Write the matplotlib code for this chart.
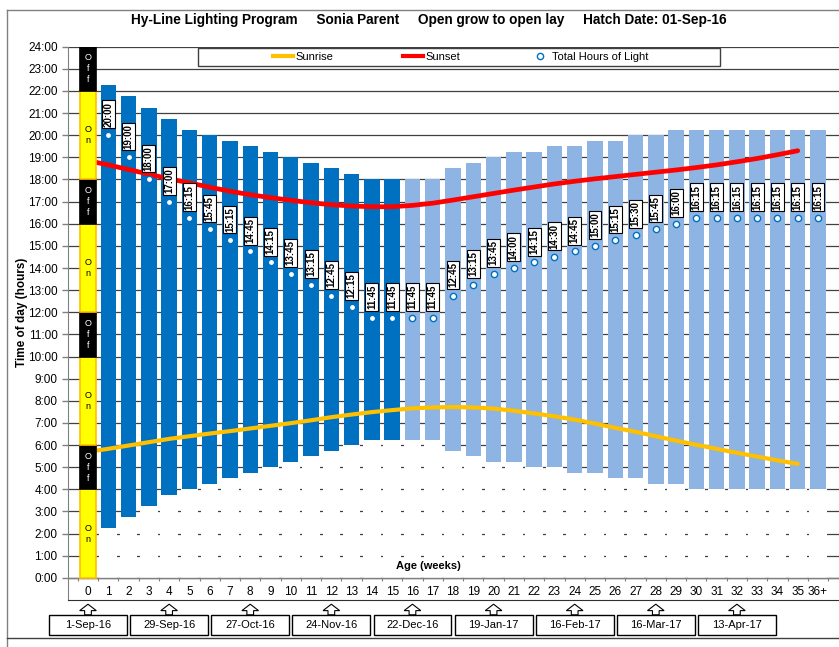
import matplotlib.pyplot as plt
import numpy as np
from matplotlib.patches import Rectangle, Polygon
from matplotlib.lines import Line2D

plt.rcParams['font.family'] = ['Liberation Sans', 'DejaVu Sans']

# x categories (age in weeks)
week_labels = [str(w) for w in range(36)] + ['36+']

# lights on / off for weeks 1 .. 36+
light_on = ['2:15', '2:45', '3:15', '3:45', '4:00', '4:15', '4:30', '4:45', '5:00', '5:15',
            '5:30', '5:45', '6:00', '6:15', '6:15', '6:15', '6:15', '5:45', '5:30', '5:15',
            '5:15', '5:00', '5:00', '4:45', '4:45', '4:30', '4:30', '4:15', '4:15', '4:00',
            '4:00', '4:00', '4:00', '4:00', '4:00', '4:00']
light_off = ['22:15', '21:45', '21:15', '20:45', '20:15', '20:00', '19:45', '19:30', '19:15', '19:00',
             '18:45', '18:30', '18:15', '18:00', '18:00', '18:00', '18:00', '18:30', '18:45', '19:00',
             '19:15', '19:15', '19:30', '19:30', '19:45', '19:45', '20:00', '20:00', '20:15', '20:15',
             '20:15', '20:15', '20:15', '20:15', '20:15', '20:15']

# natural sunrise / sunset, weeks 0 .. 35 (decimal hours)
sunrise = [5.70, 5.83, 5.98, 6.13, 6.28, 6.40, 6.52, 6.63, 6.75, 6.87,
           6.99, 7.12, 7.26, 7.38, 7.49, 7.58, 7.66, 7.70, 7.72, 7.70,
           7.65, 7.55, 7.43, 7.30, 7.15, 6.97, 6.78, 6.60, 6.40, 6.20,
           6.01, 5.83, 5.65, 5.48, 5.31, 5.15]
sunset = [18.85, 18.66, 18.45, 18.24, 18.03, 17.85, 17.65, 17.47, 17.31, 17.18,
          17.06, 16.95, 16.86, 16.80, 16.77, 16.77, 16.83, 16.93, 17.07, 17.22,
          17.37, 17.52, 17.66, 17.80, 17.92, 18.03, 18.13, 18.23, 18.33, 18.43,
          18.54, 18.66, 18.80, 18.95, 19.12, 19.30]

# week 0 on/off pattern
week0_state = ['On', 'Off', 'On', 'Off', 'On', 'Off', 'On', 'Off']
week0_start = [0, 4, 6, 10, 12, 16, 18, 22]
week0_end = [4, 6, 10, 12, 16, 18, 22, 24]

# calendar dates under the axis
date_weeks = [0, 4, 8, 12, 16, 20, 24, 28, 32]
dates = ['1-Sep-16', '29-Sep-16', '27-Oct-16', '24-Nov-16', '22-Dec-16',
         '19-Jan-17', '16-Feb-17', '16-Mar-17', '13-Apr-17']


def to_hours(s):
    h, m = s.split(':')
    return int(h) + int(m) / 60


def to_hhmm(x):
    mins = int(round(x * 60))
    return '%d:%02d' % (mins // 60, mins % 60)


on = np.array([to_hours(s) for s in light_on])
off = np.array([to_hours(s) for s in light_off])
hours = off - on
weeks = np.arange(1, 37)

dark_blue = '#0070C0'
light_blue = '#8DB4E2'
bar_colors = [dark_blue if w <= 15 else light_blue for w in weeks]

fig = plt.figure(figsize=(8.39, 6.47), dpi=100)
ax = fig.add_axes([68 / 839, 47 / 647, 792 / 839, 553.3 / 647])
ax.set_xlim(-0.986, 38.07)
ax.set_ylim(-1, 24)

# gridlines
for h in range(0, 25):
    ax.axhline(h, color='#404040', lw=0.9, zorder=0.5)

# white base bars hide the grid below the lit period
ax.bar(weeks, on, width=0.87, color='white', zorder=1)
# lit period bars
ax.bar(weeks, hours, bottom=on, width=0.76, color=bar_colors, zorder=2)

# 0:00 baseline with small category ticks
ax.axhline(0, color='#808080', lw=1, zorder=2.5)
ax.vlines(np.arange(-0.5, 37), -0.12, 0, color='#808080', lw=0.8, zorder=2.6)

# sunrise / sunset curves
ax.plot(range(36), sunrise, color='#FFC000', lw=3, zorder=3, solid_capstyle='round')
ax.plot(range(36), sunset, color='#FF0000', lw=3.4, zorder=3, solid_capstyle='round')

# week 0 column
for state, b, e in zip(week0_state, week0_start, week0_end):
    if state == 'On':
        fc, ec, tc, txt = '#FFFF00', '#FFC000', 'black', 'O\nn'
    else:
        fc, ec, tc, txt = 'black', 'black', 'white', 'O\nf\nf'
    ax.bar(0, e - b, bottom=b, width=0.8, color=fc, edgecolor=ec, lw=1.2, zorder=4)
    ax.text(0, (b + e) / 2, txt, ha='center', va='center', fontsize=6.5, color=tc,
            linespacing=1.3, zorder=4.5)

# total hours markers and labels
ax.plot(weeks, hours, 'o', ms=4.5, mfc='white', mec=dark_blue, mew=1, zorder=5)
for w, h in zip(weeks, hours):
    ax.annotate(to_hhmm(h), (w, h), xytext=(0, 15), textcoords='offset points',
                ha='center', va='center', rotation=90, fontsize=7, fontweight='bold',
                bbox=dict(boxstyle='square,pad=0.15', fc='white', ec='black', lw=0.8),
                zorder=6)

# axes styling
ax.set_xticks([])
ax.set_yticks(range(25))
ax.set_yticklabels(['%d:00' % h for h in range(25)], fontsize=8.5)
ax.tick_params(axis='y', length=4, color='#808080', width=1)
ax.spines['top'].set_visible(False)
ax.spines['right'].set_visible(False)
ax.spines['left'].set_color('#808080')
ax.spines['bottom'].set_color('#303030')

for i, lbl in enumerate(week_labels):
    ax.text(i, -0.62, lbl, ha='center', va='center', fontsize=8.5)
ax.text(16.8, 0.55, 'Age (weeks)', ha='center', va='center', fontsize=8, fontweight='bold')

# date boxes with arrows
for pos, d in zip(date_weeks, dates):
    arrow = Polygon([(pos, -1.19), (pos + 0.41, -1.48), (pos + 0.165, -1.48), (pos + 0.165, -1.67),
                     (pos - 0.165, -1.67), (pos - 0.165, -1.48), (pos - 0.41, -1.48)],
                    closed=True, fc='white', ec='black', lw=0.8, clip_on=False)
    ax.add_patch(arrow)
    ax.add_patch(Rectangle((pos - 1.92, -2.58), 3.84, 0.91, fc='white', ec='black', lw=1,
                           clip_on=False))
    ax.text(pos, -2.125, d, ha='center', va='center', fontsize=8, clip_on=False)

# legend
ax.add_patch(Rectangle((0.164, 0.965), 0.659, 0.0325, transform=ax.transAxes,
                       fc='white', ec='#404040', lw=1, zorder=7))
handles = [Line2D([], [], color='#FFC000', lw=3),
           Line2D([], [], color='#FF0000', lw=3),
           Line2D([], [], marker='o', ls='none', mfc='white', mec=dark_blue, ms=4.5)]
leg = ax.legend(handles, ['Sunrise', 'Sunset', 'Total Hours of Light'], loc='center',
                bbox_to_anchor=((461 - 68) / 792, (600 - 57) / 553.3), ncol=3, frameon=False,
                fontsize=8, handlelength=1.8, handletextpad=0.2, columnspacing=6.3)
leg.set_zorder(8)

# titles
fig.text(0.5107, 0.969, 'Hy-Line Lighting Program     Sonia Parent     Open grow to open lay'
         '     Hatch Date: 01-Sep-16', ha='center', va='center', fontsize=9.8, fontweight='bold')
fig.text(22 / 839, (647 - 312) / 647, 'Time of day (hours)', rotation=90, ha='center',
         va='center', fontsize=8.5, fontweight='bold')

# chart frame
fig.add_artist(Line2D([7 / 839, 1], [637 / 647, 637 / 647], color='#808080', lw=1))
fig.add_artist(Line2D([7 / 839, 7 / 839], [0, 637 / 647], color='#808080', lw=1))
fig.add_artist(Line2D([7 / 839, 1], [9.3 / 647, 9.3 / 647], color='#404040', lw=1))

fig.savefig('out.png', dpi=100)
